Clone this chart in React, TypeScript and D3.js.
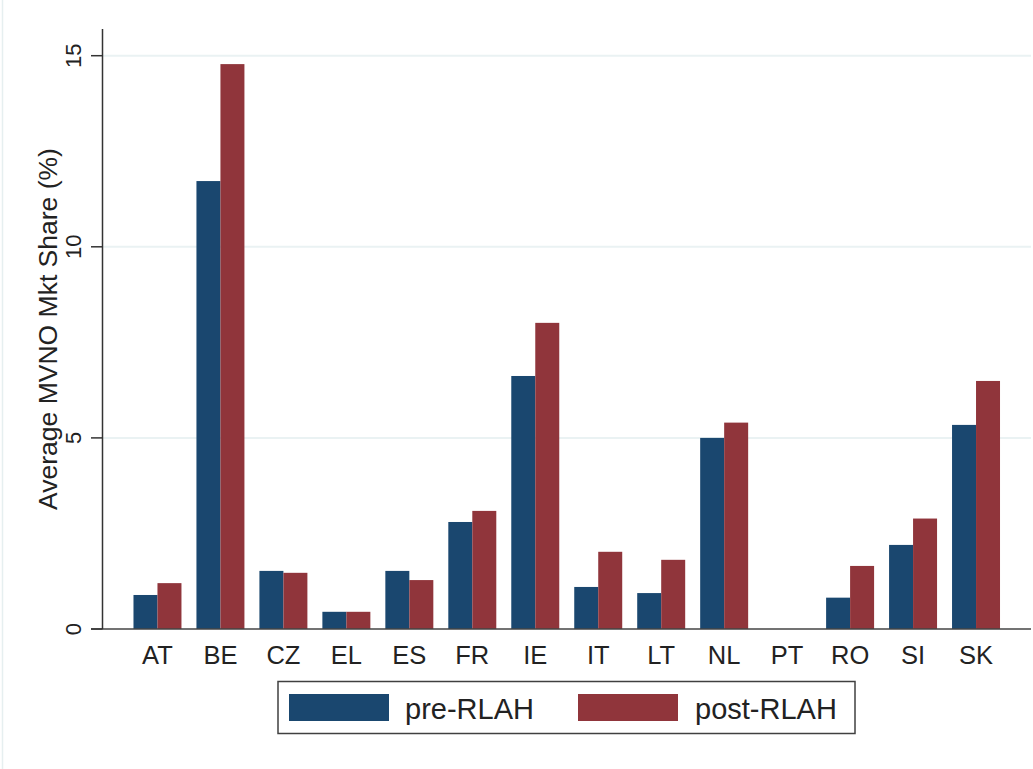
import React, { useEffect, useRef } from "react";
import * as d3 from "d3";

const countries = ["AT", "BE", "CZ", "EL", "ES", "FR", "IE", "IT", "LT", "NL", "PT", "RO", "SI", "SK"];
const preRLAH = [0.89, 11.72, 1.52, 0.45, 1.52, 2.8, 6.62, 1.1, 0.94, 5.0, 0, 0.82, 2.2, 5.34];
const postRLAH = [1.2, 14.78, 1.47, 0.45, 1.28, 3.09, 8.01, 2.02, 1.81, 5.4, 0, 1.65, 2.89, 6.49];
const seriesNames = ["pre-RLAH", "post-RLAH"];
const seriesColors = ["#1a476f", "#90353b"];
const yTicks = [0, 5, 10, 15];

const W = 1033;
const H = 769;

const App: React.FC = () => {
  const ref = useRef<SVGSVGElement | null>(null);

  useEffect(() => {
    if (!ref.current) return;
    const svg = d3.select(ref.current);
    svg.selectAll("*").remove();

    const left = 102.5;
    const right = 1031;
    const bottom = 629;

    const x = d3.scaleBand().domain(countries).range([left, right]).paddingInner(0.238).paddingOuter(0.492);
    const xs = d3.scaleBand().domain(seriesNames).range([0, x.bandwidth()]);
    const y = d3.scaleLinear().domain([0, 15]).range([bottom, 55.7]);

    // faint outer border on the left edge
    svg.append("line").attr("x1", 2.5).attr("x2", 2.5).attr("y1", 0).attr("y2", H)
      .attr("stroke", "#e6eff0").attr("stroke-width", 1.5);

    // gridlines
    svg.append("g").selectAll("line").data(yTicks.filter((t) => t > 0)).enter().append("line")
      .attr("x1", left).attr("x2", right)
      .attr("y1", (d) => y(d)).attr("y2", (d) => y(d))
      .attr("stroke", "#eaf2f3").attr("stroke-width", 2);

    // bars
    const rows = countries.map((c, i) => ({ c, vals: [preRLAH[i], postRLAH[i]] }));
    const g = svg.append("g").selectAll("g").data(rows).enter().append("g")
      .attr("transform", (d) => `translate(${x(d.c)},0)`);
    g.selectAll("rect").data((d) => d.vals.map((v, k) => ({ v, k }))).enter().append("rect")
      .attr("x", (d) => xs(seriesNames[d.k]) as number)
      .attr("width", xs.bandwidth())
      .attr("y", (d) => y(d.v))
      .attr("height", (d) => bottom - y(d.v))
      .attr("fill", (d) => seriesColors[d.k]);

    // baseline
    svg.append("line").attr("x1", 91).attr("x2", right).attr("y1", bottom).attr("y2", bottom)
      .attr("stroke", "#444").attr("stroke-width", 1.6);

    // y axis
    svg.append("line").attr("x1", left).attr("x2", left).attr("y1", 29).attr("y2", bottom)
      .attr("stroke", "#333").attr("stroke-width", 1.5);
    const yt = svg.append("g").selectAll("g").data(yTicks).enter().append("g");
    yt.append("line").attr("x1", 91).attr("x2", left).attr("y1", (d) => y(d)).attr("y2", (d) => y(d))
      .attr("stroke", "#333").attr("stroke-width", 1.5);
    yt.append("text")
      .attr("transform", (d) => `translate(80.5,${y(d)}) rotate(-90)`)
      .attr("text-anchor", "middle")
      .attr("font-size", 22)
      .attr("fill", "#222")
      .text((d) => String(d));

    svg.append("text")
      .attr("transform", `translate(56.5,329) rotate(-90)`)
      .attr("text-anchor", "middle")
      .attr("font-size", 26.5)
      .attr("fill", "#222")
      .text("Average MVNO Mkt Share (%)");

    // x labels
    svg.append("g").selectAll("text").data(countries).enter().append("text")
      .attr("x", (d) => (x(d) as number) + x.bandwidth() / 2)
      .attr("y", 664)
      .attr("text-anchor", "middle")
      .attr("font-size", 25.5)
      .attr("fill", "#222")
      .text((d) => d);

    // legend
    const lg = svg.append("g");
    lg.append("rect").attr("x", 278).attr("y", 681.5).attr("width", 577).attr("height", 52)
      .attr("fill", "white").attr("stroke", "#404040").attr("stroke-width", 1.5);
    const swX = [289, 578];
    const txX = [405, 695];
    seriesNames.forEach((s, k) => {
      lg.append("rect").attr("x", swX[k]).attr("y", 694).attr("width", 100).attr("height", 27)
        .attr("fill", seriesColors[k]);
      lg.append("text").attr("x", txX[k]).attr("y", 718.5).attr("font-size", 29).attr("fill", "#222").text(s);
    });
  }, []);

  return (
    <svg
      ref={ref}
      width={W}
      height={H}
      style={{ position: "absolute", left: 0, top: 0, background: "white", fontFamily: "'Liberation Sans', Arial, sans-serif" }}
    />
  );
};

export default App;
